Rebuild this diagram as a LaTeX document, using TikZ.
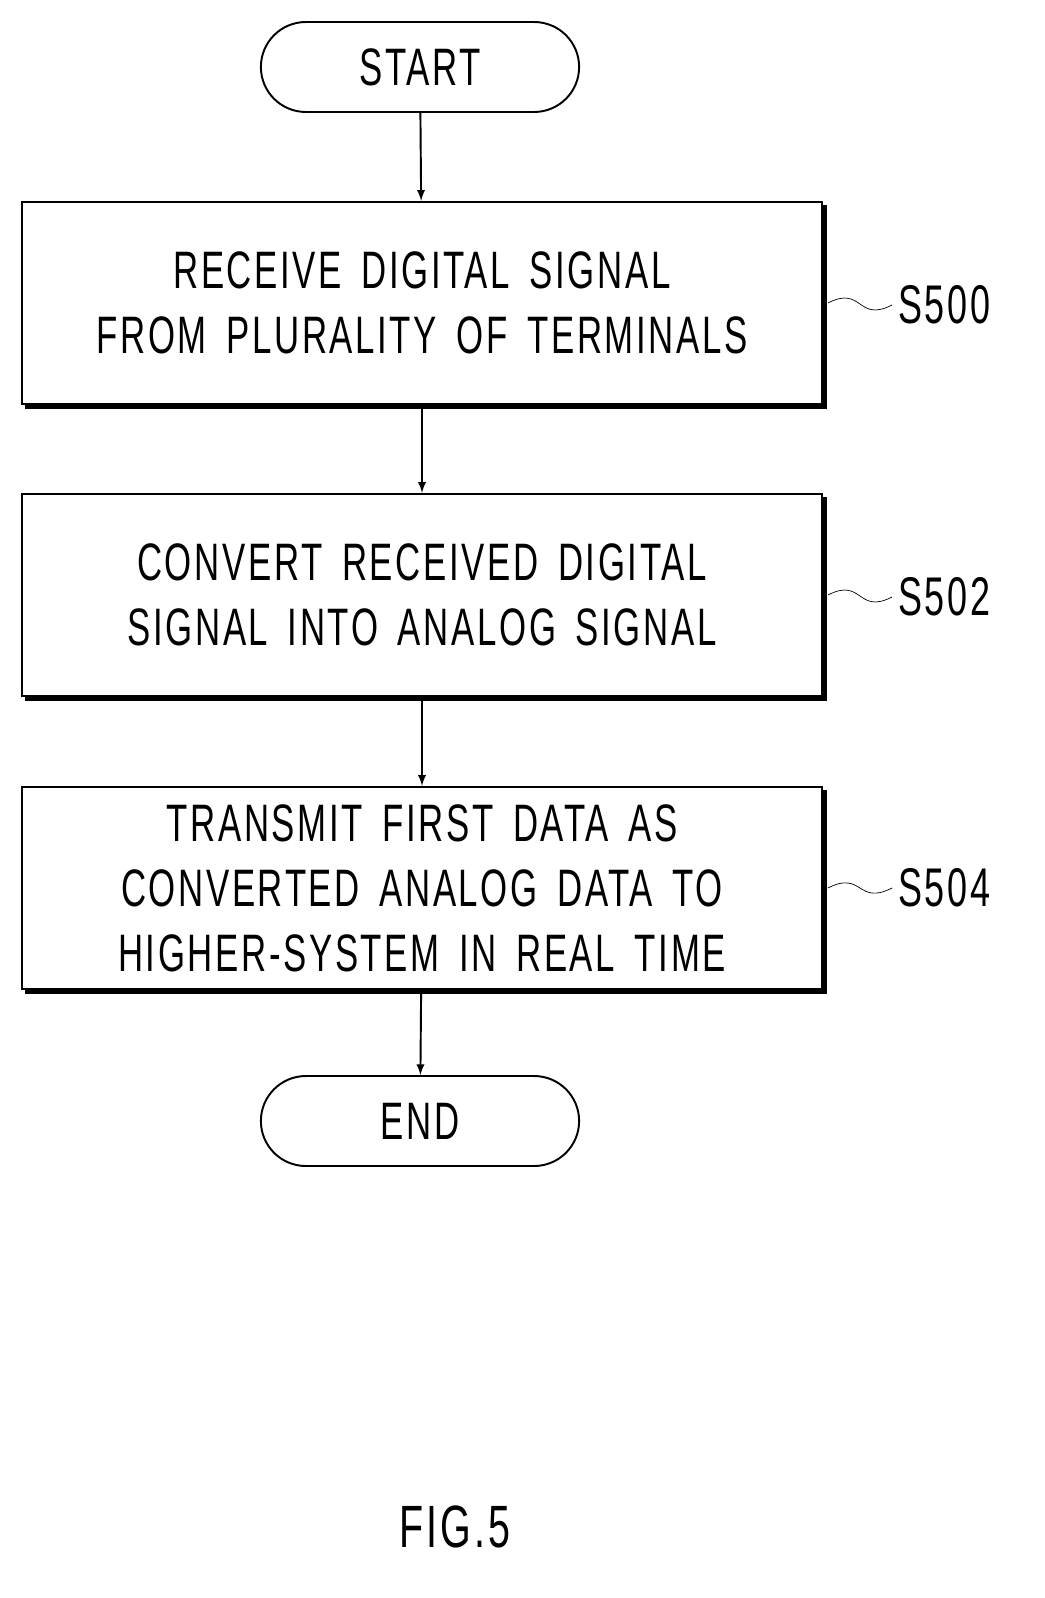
\documentclass[tikz,border=0pt]{standalone}
\usepackage{fontspec}
\setmainfont{Liberation Sans}[FakeStretch=0.66,LetterSpace=5,WordSpace=1.6]
\usetikzlibrary{positioning,shadows,shapes.misc}
\begin{document}
\begin{tikzpicture}[x=0.02cm,y=-0.02cm,
  term/.style={rounded rectangle, draw, line width=1.1pt, minimum width=6.6cm, minimum height=1.8cm, font=\fontsize{30}{30}\selectfont, fill=white},
  stepbox/.style={rectangle, draw, line width=1.1pt, fill=white, minimum width=16cm, minimum height=4.05cm, align=center, font=\fontsize{30}{37}\selectfont, copy shadow={shadow xshift=0.08cm, shadow yshift=-0.08cm, fill=black, draw=black}},
  steplbl/.style={font=\fontsize{31}{31}\selectfont},
  arr/.style={->, line width=1.1pt, >=latex}]
\node[term] (start) at (420,67) {START};
\node[stepbox] (s1) at (422,303) {RECEIVE DIGITAL SIGNAL\\FROM PLURALITY OF TERMINALS};
\node[stepbox] (s2) at (422,595) {CONVERT RECEIVED DIGITAL\\SIGNAL INTO ANALOG SIGNAL};
\node[stepbox] (s3) at (422,888) {TRANSMIT FIRST DATA AS\\CONVERTED ANALOG DATA TO\\HIGHER-SYSTEM IN REAL TIME};
\node[term] (end) at (420,1121) {END};
\node[steplbl, anchor=west] (l1) at (892,305) {S500};
\node[steplbl, anchor=west] (l2) at (892,597) {S502};
\node[steplbl, anchor=west] (l3) at (892,888) {S504};
\node[font=\fontsize{34}{34}\selectfont] (fig) at (455,1527) {FIG.5};
\draw[arr] (start) -- (s1);
\draw[arr] (s1) -- (s2);
\draw[arr] (s2) -- (s3);
\draw[arr] (s3) -- (end);
\draw ([xshift=0.1cm]s1.east) .. controls +(35,-18) and +(-35,18) .. (l1.west);
\draw ([xshift=0.1cm]s2.east) .. controls +(35,-18) and +(-35,18) .. (l2.west);
\draw ([xshift=0.1cm]s3.east) .. controls +(35,-18) and +(-35,18) .. (l3.west);
\pgfresetboundingbox
\useasboundingbox (0,0) rectangle (1044,1598);
\end{tikzpicture}
\end{document}
